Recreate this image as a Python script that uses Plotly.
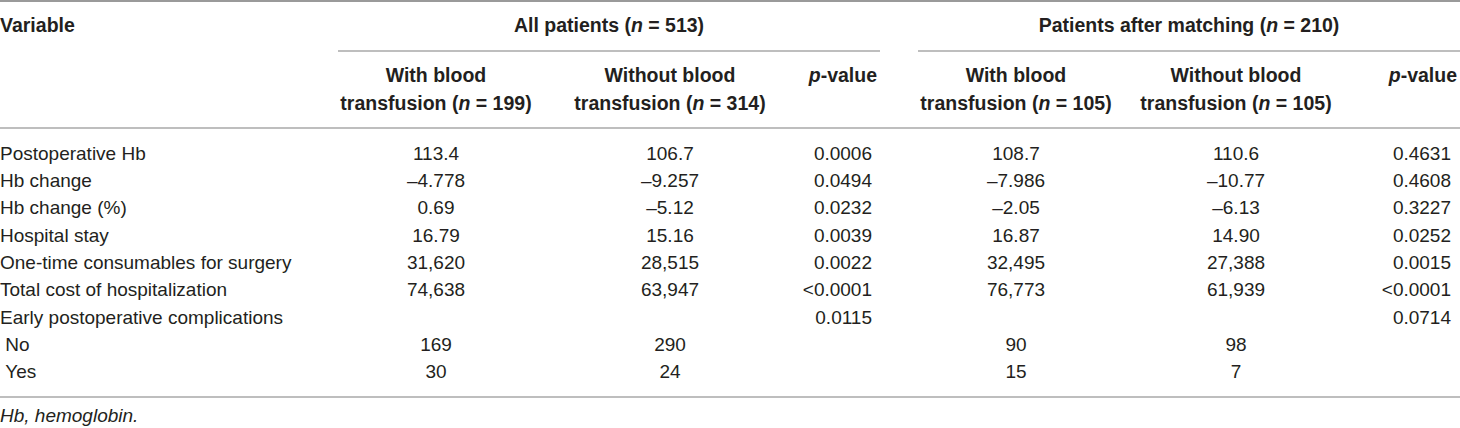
import plotly.graph_objects as go

# table content
variables = ["Postoperative Hb", "Hb change", "Hb change (%)", "Hospital stay",
             "One-time consumables for surgery", "Total cost of hospitalization",
             "Early postoperative complications", "\u00a0No", "\u00a0Yes"]
all_with = ["113.4", "\u20134.778", "0.69", "16.79", "31,620", "74,638", "", "169", "30"]
all_without = ["106.7", "\u20139.257", "\u20135.12", "15.16", "28,515", "63,947", "", "290", "24"]
all_p = ["0.0006", "0.0494", "0.0232", "0.0039", "0.0022", "&lt;0.0001", "0.0115", "", ""]
matched_with = ["108.7", "\u20137.986", "\u20132.05", "16.87", "32,495", "76,773", "", "90", "15"]
matched_without = ["110.6", "\u201310.77", "\u20136.13", "14.90", "27,388", "61,939", "", "98", "7"]
matched_p = ["0.4631", "0.4608", "0.3227", "0.0252", "0.0015", "&lt;0.0001", "0.0714", "", ""]

group_labels = ["All patients (<i>n</i> = 513)", "Patients after matching (<i>n</i> = 210)"]
sub_line1 = ["With blood", "Without blood", "<i>p</i>-value",
             "With blood", "Without blood", "<i>p</i>-value"]
sub_line2 = ["transfusion (<i>n</i> = 199)", "transfusion (<i>n</i> = 314)", "",
             "transfusion (<i>n</i> = 105)", "transfusion (<i>n</i> = 105)", ""]
footnote = "<i>Hb, hemoglobin.</i>"

W, H = 1460, 428
TXT = "#231f20"
LINE = "#a8a8a8"
body_font = dict(family="Liberation Sans, Arial, sans-serif", size=19, color=TXT)
head_font = dict(family="Liberation Sans, Arial, sans-serif", size=19.5, color=TXT)

# layout of the table (pixel units)
row_y = [155 + 27.3 * i for i in range(len(variables))]
col_x = [436, 670, 872, 1016, 1236, 1451]      # data anchors
head_x = [436, 670, 877, 1016, 1236, 1457]     # sub-header anchors
col_pos = ["middle center", "middle center", "middle left",
           "middle center", "middle center", "middle left"]
group_x = [609, 1189]
group_span = [(338, 880), (918, 1460)]

fig = go.Figure()

def add_text(xs, ys, texts, pos, font):
    fig.add_trace(go.Scatter(x=xs, y=ys, text=texts, mode="text", textposition=pos,
                             textfont=font, hoverinfo="skip", showlegend=False))

# header
add_text([0], [27], ["<b>Variable</b>"], "middle right", head_font)
add_text(group_x, [27, 27], ["<b>%s</b>" % g for g in group_labels], "middle center", head_font)
for x, pos, t1, t2 in zip(head_x, col_pos, sub_line1, sub_line2):
    if t2:
        add_text([x, x], [77, 105], ["<b>%s</b>" % t1, "<b>%s</b>" % t2], pos, head_font)
    else:
        add_text([x], [77], ["<b>%s</b>" % t1], pos, head_font)

# body
add_text([0] * len(variables), row_y, variables, "middle right", body_font)
for x, pos, col in zip(col_x, col_pos, [all_with, all_without, all_p,
                                        matched_with, matched_without, matched_p]):
    add_text([x] * len(col), row_y, col, pos, body_font)

add_text([0], [417], [footnote], "middle right", body_font)

# rules
fig.add_shape(type="line", x0=0, x1=W, y0=1, y1=1, line=dict(color="#9a9a9a", width=2))
for a, b in group_span:
    fig.add_shape(type="line", x0=a, x1=b, y0=51, y1=51, line=dict(color=LINE, width=1.5))
fig.add_shape(type="line", x0=0, x1=W, y0=128, y1=128, line=dict(color=LINE, width=1.5))
fig.add_shape(type="line", x0=0, x1=W, y0=397, y1=397, line=dict(color=LINE, width=1.5))

fig.update_layout(width=W, height=H, margin=dict(l=0, r=0, t=0, b=0),
                  paper_bgcolor="white", plot_bgcolor="white",
                  xaxis=dict(range=[0, W], visible=False, fixedrange=True),
                  yaxis=dict(range=[H, 0], visible=False, fixedrange=True))

# drop the page's default body margin so the table starts at the window corner
fig.write_html("out.html", config={"displayModeBar": False},
               post_script="document.body.style.margin='0';document.body.style.overflow='hidden';")
